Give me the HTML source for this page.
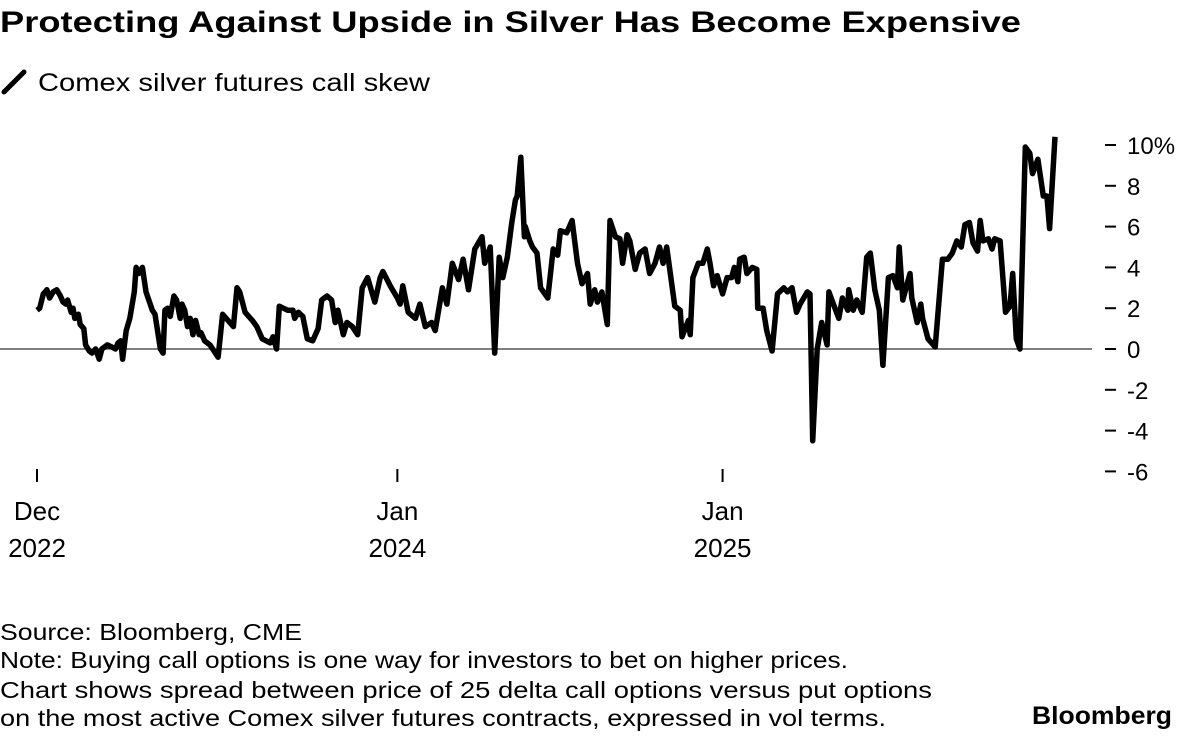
<!DOCTYPE html>
<html><head><meta charset="utf-8"><style>
body{margin:0;width:1184px;height:736px;background:#fff;overflow:hidden;font-family:"Liberation Sans",sans-serif;color:#000}
svg{position:absolute;left:0;top:0}
</style></head><body>
<svg width="1184" height="736">
<text x="0" y="32" font-size="30" font-weight="bold" textLength="1021" lengthAdjust="spacingAndGlyphs">Protecting Against Upside in Silver Has Become Expensive</text>
<g>
<line x1="4" y1="92" x2="24" y2="72" stroke="#000" stroke-width="5" stroke-linecap="round"/>
<text x="38" y="91" font-size="25" textLength="392" lengthAdjust="spacingAndGlyphs">Comex silver futures call skew</text>
</g>
<g id="yaxis"></g>
<g id="xaxis"></g>
<line id="zero" stroke="#000" stroke-width="1"/>
<path id="line" fill="none" stroke="#000" stroke-width="5.5" stroke-linejoin="round"/>
<g font-size="23">
<text x="0" y="640" textLength="302" lengthAdjust="spacingAndGlyphs">Source: Bloomberg, CME</text>
<text x="0" y="668" textLength="848" lengthAdjust="spacingAndGlyphs">Note: Buying call options is one way for investors to bet on higher prices.</text>
<text x="0" y="698" textLength="932" lengthAdjust="spacingAndGlyphs">Chart shows spread between price of 25 delta call options versus put options</text>
<text x="0" y="726" textLength="886" lengthAdjust="spacingAndGlyphs">on the most active Comex silver futures contracts, expressed in vol terms.</text>
</g>
<text x="1032" y="724" font-size="25" font-weight="bold" textLength="140" lengthAdjust="spacingAndGlyphs">Bloomberg</text>
</svg>
<script>
const days=[0,3,7,11,14,18,22,26,29,32,34,38,40,42,46,48,52,54,58,61,65,69,72,78,83,87,90,93,95,99,103,108,110,113,117,121,128,131,137,140,142,145,148,152,155,159,161,164,167,170,173,176,180,182,186,192,201,206,212,218,222,225,231,239,244,250,259,262,266,269,278,284,286,290,295,300,306,312,316,322,327,331,334,340,344,350,356,361,367,375,381,384,392,400,403,406,412,420,425,431,438,442,450,455,461,468,473,479,486,494,497,503,508,513,517,522,527,531,533,537,541,542,547,550,555,559,567,573,578,581,588,594,600,605,611,614,619,622,627,633,636,642,647,650,655,658,664,669,675,680,686,691,695,699,708,714,716,723,725,728,734,739,744,747,751,755,761,766,771,774,778,780,785,788,794,799,800,806,810,816,822,829,833,838,843,847,855,858,861,866,871,877,879,884,890,894,900,901,906,910,916,921,925,930,935,939,945,950,955,957,961,969,971,977,981,983,989,997,1005,1011,1016,1021,1026,1030,1035,1039,1044,1047,1050,1056,1060,1063,1069,1075,1080,1083,1087,1091,1097,1102,1105,1111,1117,1121,1124,1130];
const skew=[1.9,2.0,2.7,2.9,2.5,2.8,2.9,2.6,2.3,2.2,2.4,1.8,2.0,1.5,1.7,1.2,1.0,0.2,-0.1,-0.2,0.0,-0.5,0.0,0.2,0.1,0.0,0.3,0.4,-0.5,0.9,1.5,2.8,4.0,3.7,4.0,2.8,1.9,1.7,0.0,-0.2,1.9,2.0,1.6,2.6,2.4,1.5,2.2,1.9,1.1,1.5,0.7,1.4,0.7,0.8,0.4,0.2,-0.4,1.7,1.4,1.1,3.0,2.8,1.8,1.4,1.1,0.5,0.3,0.6,0.0,2.1,1.9,1.9,1.5,1.8,1.6,0.5,0.4,1.0,2.4,2.6,2.4,1.3,1.9,0.7,1.3,1.1,0.7,3.0,3.5,2.3,3.5,3.8,3.1,2.5,2.2,3.1,1.8,1.5,2.2,1.1,1.3,0.9,3.0,2.2,4.2,3.4,4.4,2.9,4.9,5.5,4.2,5.0,-0.2,4.5,3.5,4.5,6.2,7.3,7.5,9.4,5.5,6.0,5.3,5.0,4.7,3.0,2.5,4.9,4.6,5.8,5.7,6.3,4.2,3.2,3.7,2.2,2.9,2.3,2.8,1.2,6.3,5.5,5.4,4.2,5.6,5.3,3.9,4.7,4.9,3.7,4.2,5.0,4.2,5.0,2.1,1.9,0.6,1.4,0.7,3.5,4.2,4.2,4.9,4.2,3.1,3.6,2.7,3.5,3.5,4.0,3.3,4.4,4.5,3.7,4.0,3.9,2.0,2.0,0.9,-0.1,2.7,3.0,2.8,3.0,1.8,2.2,2.8,2.7,-4.5,0.0,1.3,0.2,2.8,2.2,1.5,2.5,1.9,2.9,1.9,2.4,1.8,4.5,4.7,2.9,1.9,-0.8,3.5,3.6,3.0,5.0,2.4,3.7,2.5,1.3,2.2,1.5,0.5,0.1,4.4,4.4,4.7,5.3,5.0,6.1,6.2,5.2,4.8,6.3,5.3,5.4,4.9,5.4,5.3,1.8,2.1,3.7,0.5,0.0,9.9,9.6,8.6,9.3,7.5,7.5,5.9,10.4];
const yTicks=[10,8,6,4,2,0,-2,-4,-6];
const yTickLabels=["10%","8","6","4","2","0","-2","-4","-6"];
const xTickDays=[0,400,761];
const xTickLabels=[["Dec","2022"],["Jan","2024"],["Jan","2025"]];
const NS="http://www.w3.org/2000/svg";
const X=d=>37+d/1.11;
const Y=v=>349-v*20.4;
const ya=document.getElementById('yaxis');
yTicks.forEach((t,i)=>{
 const l=document.createElementNS(NS,'line');
 l.setAttribute('x1',1105);l.setAttribute('x2',1116);l.setAttribute('y1',Y(t));l.setAttribute('y2',Y(t));
 l.setAttribute('stroke','#000');l.setAttribute('stroke-width','2');
 
 
 ya.appendChild(l);
 const tx=document.createElementNS(NS,'text');
 tx.setAttribute('x',1127);tx.setAttribute('y',Y(t)+9);tx.setAttribute('font-size','24');
 tx.textContent=yTickLabels[i];
 
 
 ya.appendChild(tx);
});
const xa=document.getElementById('xaxis');
xTickDays.forEach((d,i)=>{
 const l=document.createElementNS(NS,'line');
 l.setAttribute('x1',X(d));l.setAttribute('x2',X(d));l.setAttribute('y1',469);l.setAttribute('y2',482);
 l.setAttribute('stroke','#000');l.setAttribute('stroke-width','2');
 
 
 xa.appendChild(l);
 xTickLabels[i].forEach((s,j)=>{
  const tx=document.createElementNS(NS,'text');
  tx.setAttribute('x',X(d));tx.setAttribute('y',520+j*37);tx.setAttribute('font-size','26');
  tx.setAttribute('text-anchor','middle');
  tx.textContent=s;
  
  
  xa.appendChild(tx);
 });
});
const z=document.getElementById('zero');
z.setAttribute('x1',0);z.setAttribute('x2',1092);z.setAttribute('y1',Y(0));z.setAttribute('y2',Y(0));
document.getElementById('line').setAttribute('d',days.map((d,i)=>(i?'L':'M')+X(d).toFixed(1)+','+Y(skew[i]).toFixed(1)).join(''));
</script>
</body></html>
